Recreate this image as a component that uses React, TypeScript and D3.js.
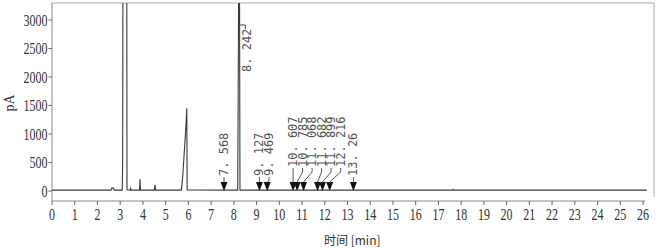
import React from "react";
import * as d3 from "d3";

// ---- data ----
const traceTimes = [0, 2.6, 2.63, 2.7, 2.74, 3.09, 3.11, 3.12, 3.29, 3.3, 3.44, 3.46, 3.48, 3.85, 3.87, 3.89, 4.5, 4.53, 4.56, 5.69, 5.75, 5.8, 5.85, 5.9, 5.93, 5.945, 8.17, 8.19, 8.21, 8.25, 8.27, 17.6, 17.64, 17.68, 26.17];
const traceValues = [15, 15, 50, 50, 15, 15, 600, 3500, 3500, 20, 15, 45, 15, 15, 210, 15, 15, 110, 15, 15, 250, 560, 870, 1200, 1450, 20, 15, 1650, 3500, 3500, 15, 15, 30, 15, 15];

const peakTimes = [7.568, 9.127, 9.469, 10.607, 10.785, 11.068, 11.682, 11.899, 12.216, 13.26];
const mainPeakTime = 8.242;

const xTicks = d3.range(0, 27);
const yTicks = [0, 500, 1000, 1500, 2000, 2500, 3000];

const W = 660;
const H = 248;

export default function App() {
  const x = d3.scaleLinear().domain([0, 26]).range([52, 643]);
  const y = d3.scaleLinear().domain([0, 3000]).range([191, 20]);
  const top = 3;
  const right = 654;
  const axisY = 201;

  const line = d3
    .line<number>()
    .x((_, i) => x(traceTimes[i]))
    .y((v) => y(v));
  const pathD = line(traceValues) || "";

  // label spreading
  const gap = 9.5;
  const labelX: number[] = [];
  peakTimes.forEach((t, i) => {
    const px = x(t);
    const lx = i === 0 ? px : Math.max(px, labelX[i - 1] + gap);
    labelX.push(lx);
  });
  const groups: number[][] = [];
  peakTimes.forEach((t, i) => {
    if (i > 0 && labelX[i] - labelX[i - 1] <= gap + 0.01) groups[groups.length - 1].push(i);
    else groups.push([i]);
  });
  const labelBase: number[] = new Array(peakTimes.length).fill(177);
  groups.forEach((g) => {
    const maxShift = Math.max(...g.map((i) => labelX[i] - x(peakTimes[i])));
    if (maxShift > 3) g.forEach((i) => (labelBase[i] = 168));
  });

  const fmt = (t: number) => String(t).replace(".", ". ");
  const y0 = y(0);
  const triH = 9;
  const triW = 7;

  const mainX = x(mainPeakTime);

  return (
    <svg width={W} height={H} style={{ position: "absolute", left: 0, top: 0, background: "#fff" }}>
      <defs>
        <clipPath id="plotclip">
          <rect x={52} y={top} width={right - 52} height={axisY - top} />
        </clipPath>
      </defs>
      {/* frame */}
      <line x1={52} y1={top} x2={right} y2={top} stroke="#aaa" strokeWidth={1} />
      <line x1={right} y1={top} x2={right} y2={197} stroke="#aaa" strokeWidth={1} />
      <line x1={52} y1={top} x2={52} y2={axisY} stroke="#888" strokeWidth={1} />
      <line x1={52} y1={axisY} x2={645} y2={axisY} stroke="#888" strokeWidth={1} />

      {/* y ticks */}
      {yTicks.map((v) => (
        <g key={"y" + v}>
          <line x1={48.5} x2={52} y1={y(v)} y2={y(v)} stroke="#666" />
          <text
            transform={`translate(47.5,${y(v) + 5.5}) scale(0.75,1)`}
            textAnchor="end"
            fontFamily="Liberation Serif"
            fontSize={16}
            fill="#333"
          >
            {v}
          </text>
        </g>
      ))}
      {/* x ticks */}
      {xTicks.map((v) => (
        <g key={"x" + v}>
          <line x1={x(v)} x2={x(v)} y1={axisY} y2={axisY + 4} stroke="#666" />
          <text
            transform={`translate(${x(v)},220) scale(0.75,1)`}
            textAnchor="middle"
            fontFamily="Liberation Serif"
            fontSize={16}
            fill="#333"
          >
            {v}
          </text>
        </g>
      ))}
      <text
        transform="translate(13.5,103) rotate(-90)"
        textAnchor="middle"
        fontFamily="Liberation Serif"
        fontSize={14}
        fill="#333"
      >
        pA
      </text>
      <text x={324} y={245} fontFamily="Noto Sans CJK SC" fontSize={12} fill="#333">
        时间 [min]
      </text>

      {/* trace */}
      <g clipPath="url(#plotclip)">
        <path d={pathD} fill="none" stroke="#3a3a3a" strokeWidth={1.1} />
      </g>

      {/* main peak label */}
      <polyline
        points={`${mainX},25 ${mainX + 6},25 ${mainX + 6},29`}
        fill="none"
        stroke="#444"
        strokeWidth={1}
      />
      <text
        transform={`translate(${mainX + 7.5},72) rotate(-90)`}
        fontFamily="DejaVu Sans Mono"
        fontSize={12}
        dominantBaseline="central"
        fill="#555"
      >
        {fmt(mainPeakTime)}
      </text>

      {/* marked peaks */}
      {peakTimes.map((t, i) => {
        const px = x(t);
        const lx = labelX[i];
        const base = labelBase[i];
        const triTop = y0 - triH;
        return (
          <g key={"p" + i}>
            <polyline
              points={`${px},${triTop} ${lx},${base + 4} ${lx},${base}`}
              fill="none"
              stroke="#444"
              strokeWidth={0.9}
            />
            <path
              d={`M${px - triW / 2},${triTop} L${px + triW / 2},${triTop} L${px},${y0} Z`}
              fill="#111"
            />
            <text
              transform={`translate(${lx},${base - 1}) rotate(-90)`}
              fontFamily="DejaVu Sans Mono"
              fontSize={12}
              dominantBaseline="central"
              fill="#555"
            >
              {fmt(t)}
            </text>
          </g>
        );
      })}
    </svg>
  );
}
